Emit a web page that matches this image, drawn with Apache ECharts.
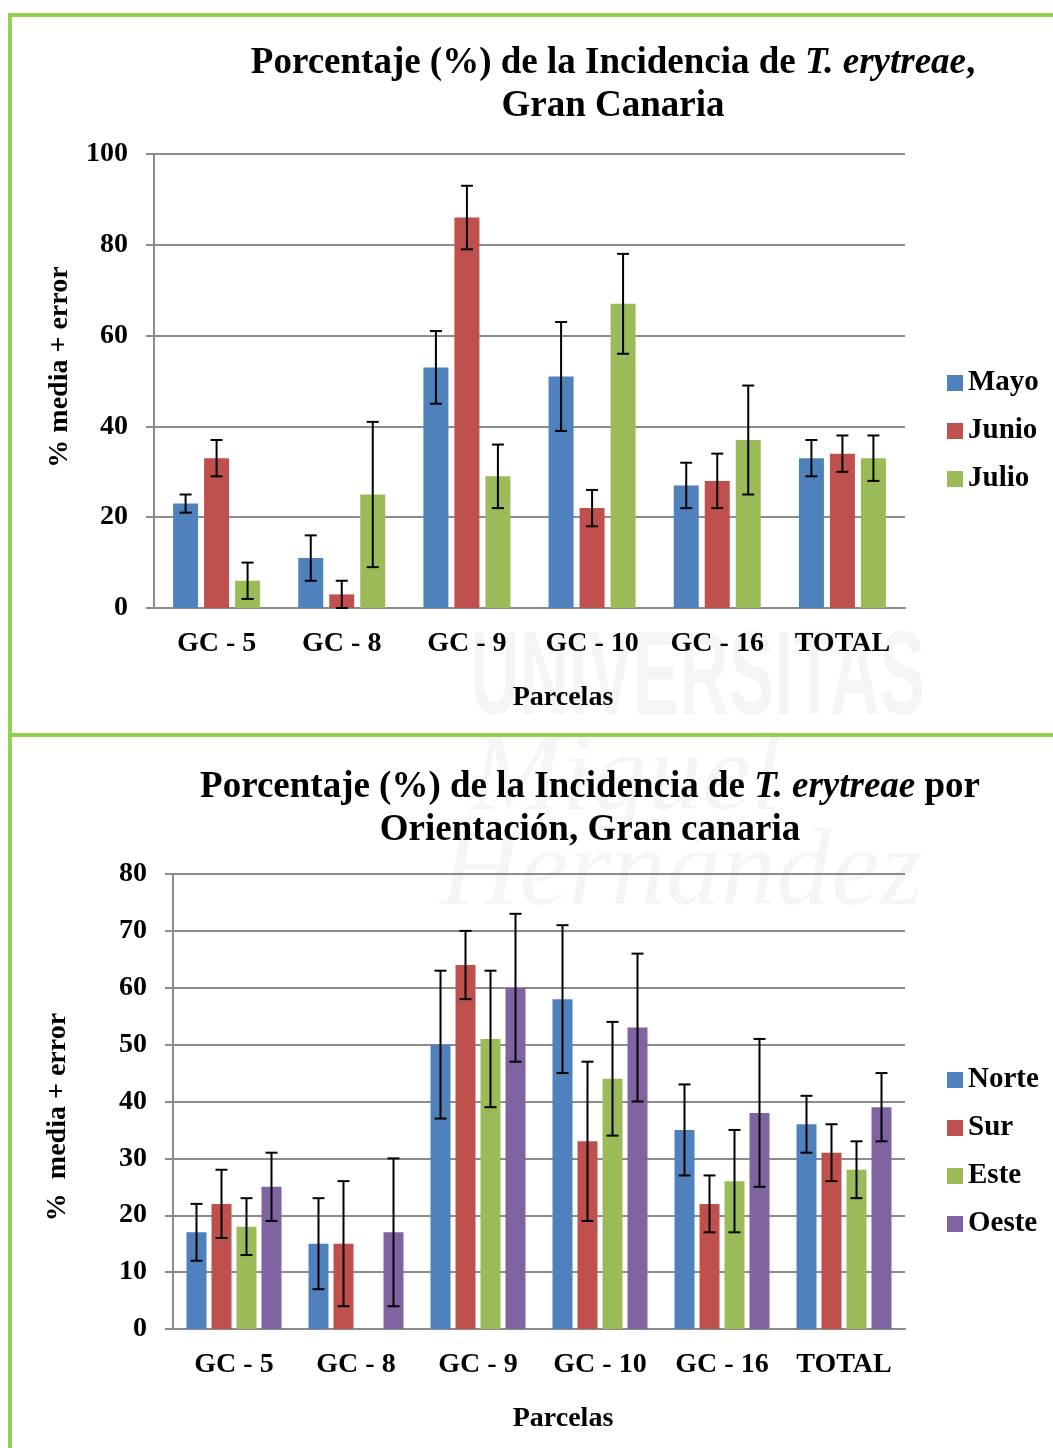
<!DOCTYPE html>
<html>
<head>
<meta charset="utf-8">
<script src="https://cdn.jsdelivr.net/npm/echarts@6/dist/echarts.min.js"></script>
<style>
  html, body { margin: 0; padding: 0; background: #fff; }
  #chart { width: 1053px; height: 1448px; }
</style>
</head>
<body>
<div id="chart"></div>
<script>
// ---------- DATA ----------
const categories = ['GC - 5', 'GC - 8', 'GC - 9', 'GC - 10', 'GC - 16', 'TOTAL'];

// Chart 1 (por mes)
const mayo      = [23, 11, 53, 51, 27, 33];
const mayoErr   = [2, 5, 8, 12, 5, 4];
const junio     = [33, 3, 86, 22, 28, 34];
const junioErr  = [4, 3, 7, 4, 6, 4];
const julio     = [6, 25, 29, 67, 37, 33];
const julioErr  = [4, 16, 7, 11, 12, 5];

// Chart 2 (por orientación)
const norte     = [17, 15, 50, 58, 35, 36];
const norteErr  = [5, 8, 13, 13, 8, 5];
const sur       = [22, 15, 64, 33, 22, 31];
const surErr    = [6, 11, 6, 14, 5, 5];
const este      = [18, null, 51, 44, 26, 28];
const esteErr   = [5, null, 12, 10, 9, 5];
const oeste     = [25, 17, 60, 53, 38, 39];
const oesteErr  = [6, 13, 13, 13, 13, 6];

const yTicks1 = [0, 20, 40, 60, 80, 100];
const yTicks2 = [0, 10, 20, 30, 40, 50, 60, 70, 80];

// ---------- STYLE ----------
const FONT = "'Liberation Serif', 'Times New Roman', serif";
const COLORS = { Mayo: '#4F81BD', Junio: '#C0504D', Julio: '#9BBB59',
                 Norte: '#4F81BD', Sur: '#C0504D', Este: '#9BBB59', Oeste: '#8064A2' };
const GRID_COLOR = '#8c8c8c';
const GREEN = '#92D050';

const chart = echarts.init(document.getElementById('chart'), null, { renderer: 'canvas' });

function errData(vals, errs) {
  const out = [];
  vals.forEach((v, i) => {
    if (v !== null && errs[i] !== null) out.push([i, Math.max(0, v - errs[i]), v + errs[i]]);
  });
  return out;
}

function errSeries(vals, errs, offset, axisIdx) {
  return {
    type: 'custom',
    xAxisIndex: axisIdx, yAxisIndex: axisIdx,
    z: 5,
    silent: true,
    data: errData(vals, errs),
    encode: { x: 0, y: [1, 2] },
    renderItem: function (params, api) {
      const idx = api.value(0);
      const lo = api.coord([idx, api.value(1)]);
      const hi = api.coord([idx, api.value(2)]);
      const x = lo[0] + offset;
      const hw = 6;
      const st = { stroke: '#000', lineWidth: 2 };
      return {
        type: 'group',
        children: [
          { type: 'line', shape: { x1: x, y1: lo[1], x2: x, y2: hi[1] }, style: st },
          { type: 'line', shape: { x1: x - hw, y1: lo[1], x2: x + hw, y2: lo[1] }, style: st },
          { type: 'line', shape: { x1: x - hw, y1: hi[1], x2: x + hw, y2: hi[1] }, style: st }
        ]
      };
    }
  };
}

function barSeries(name, vals, axisIdx, bw, gap) {
  return {
    name: name, type: 'bar',
    xAxisIndex: axisIdx, yAxisIndex: axisIdx,
    data: vals,
    barWidth: bw,
    barGap: gap,
    itemStyle: { color: COLORS[name] },
    z: 2
  };
}

// Bar geometry (style)
const BW1 = 25, GAP1 = 6;
const BW2 = 20, GAP2 = 5;
const step1 = BW1 + GAP1, step2 = BW2 + GAP2;

const series1Names = ['Mayo', 'Junio', 'Julio'];
const series1Vals = [mayo, junio, julio];
const series1Errs = [mayoErr, junioErr, julioErr];
const series2Names = ['Norte', 'Sur', 'Este', 'Oeste'];
const series2Vals = [norte, sur, este, oeste];
const series2Errs = [norteErr, surErr, esteErr, oesteErr];

const series = [];
series1Names.forEach((n, i) => series.push(barSeries(n, series1Vals[i], 0, BW1, (GAP1 / BW1 * 100) + '%')));
series2Names.forEach((n, i) => series.push(barSeries(n, series2Vals[i], 1, BW2, (GAP2 / BW2 * 100) + '%')));
series1Names.forEach((n, i) => series.push(errSeries(series1Vals[i], series1Errs[i], (i - 1) * step1, 0)));
series2Names.forEach((n, i) => series.push(errSeries(series2Vals[i], series2Errs[i], (i - 1.5) * step2, 1)));

function xAxis(gridIndex) {
  return {
    type: 'category', gridIndex: gridIndex, data: categories,
    axisLine: { show: true, lineStyle: { color: GRID_COLOR, width: 2 } },
    axisTick: { show: false },
    axisLabel: { interval: 0, fontFamily: FONT, fontWeight: 'bold', fontSize: 28, color: '#000', margin: 22 }
  };
}
function yAxis(gridIndex, max, interval) {
  return {
    type: 'value', gridIndex: gridIndex, min: 0, max: max, interval: interval,
    axisLine: { show: true, lineStyle: { color: GRID_COLOR, width: 2 } },
    axisTick: { show: true, length: 8, lineStyle: { color: GRID_COLOR, width: 2 } },
    splitLine: { show: true, lineStyle: { color: GRID_COLOR, width: 2 } },
    axisLabel: { fontFamily: FONT, fontWeight: 'bold', fontSize: 28, color: '#000', margin: 26 }
  };
}

const titleTextStyle = {
  fontFamily: FONT, fontSize: 37, fontWeight: 'bold', color: '#000', lineHeight: 43,
  rich: { i: { fontFamily: FONT, fontSize: 37, fontWeight: 'bold', fontStyle: 'italic', color: '#000', lineHeight: 43 } }
};

const legendStyle = {
  orient: 'vertical', icon: 'rect', itemWidth: 16, itemHeight: 16, itemGap: 16, padding: 0,
  textStyle: { fontFamily: FONT, fontSize: 29, fontWeight: 'bold', color: '#000', lineHeight: 32 },
  selectedMode: false
};

const wmColor = 'rgba(0,0,0,0.04)';

const option = {
  backgroundColor: '#fff',
  animation: false,
  title: [
    { text: 'Porcentaje (%) de la Incidencia de {i|T. erytreae},\nGran Canaria',
      left: 613, top: 42, textAlign: 'center', padding: 0, textStyle: titleTextStyle },
    { text: 'Porcentaje (%) de la Incidencia de {i|T. erytreae} por\nOrientación, Gran canaria',
      left: 590, top: 766, textAlign: 'center', padding: 0, textStyle: titleTextStyle }
  ],
  legend: [
    Object.assign({ data: series1Names, left: 947, top: 367 }, legendStyle),
    Object.assign({ data: series2Names, left: 947, top: 1064 }, legendStyle)
  ],
  grid: [
    { left: 154, top: 154, width: 751, height: 454 },
    { left: 173, top: 874, width: 732, height: 455 }
  ],
  xAxis: [xAxis(0), xAxis(1)],
  yAxis: [yAxis(0, yTicks1[yTicks1.length - 1], yTicks1[1] - yTicks1[0]),
          yAxis(1, yTicks2[yTicks2.length - 1], yTicks2[1] - yTicks2[0])],
  graphic: [
    // watermark (faint)
    { type: 'text', x: 470, y: 622, z: -10, scaleX: 0.58, silent: true,
      style: { text: 'UNIVERSITAS', font: "bold 118px 'Liberation Sans', sans-serif", fill: wmColor } },
    { type: 'text', x: 470, y: 725, z: -10, silent: true,
      style: { text: 'Miguel', font: "italic 110px 'Liberation Serif', serif", fill: wmColor } },
    { type: 'text', x: 440, y: 820, z: -10, silent: true,
      style: { text: 'Hernández', font: "italic 110px 'Liberation Serif', serif", fill: wmColor } },
    // green frame
    { type: 'rect', shape: { x: 8, y: 13, width: 1045, height: 4 }, style: { fill: GREEN }, z: 20 },
    { type: 'rect', shape: { x: 8, y: 13, width: 4, height: 1435 }, style: { fill: GREEN }, z: 20 },
    { type: 'rect', shape: { x: 8, y: 733, width: 1045, height: 4 }, style: { fill: GREEN }, z: 20 },
    // y-axis names
    { type: 'text', x: 60, y: 367, rotation: Math.PI / 2, z: 20,
      style: { text: '% media + error', font: "bold 28px " + FONT, fill: '#000', align: 'center', verticalAlign: 'middle' } },
    { type: 'text', x: 58, y: 1117, rotation: Math.PI / 2, z: 20,
      style: { text: '%  media + error', font: "bold 28px " + FONT, fill: '#000', align: 'center', verticalAlign: 'middle' } },
    // x-axis names
    { type: 'text', x: 563, y: 698, z: 20,
      style: { text: 'Parcelas', font: "bold 28px " + FONT, fill: '#000', align: 'center', verticalAlign: 'middle' } },
    { type: 'text', x: 563, y: 1419, z: 20,
      style: { text: 'Parcelas', font: "bold 28px " + FONT, fill: '#000', align: 'center', verticalAlign: 'middle' } }
  ],
  series: series
};

chart.setOption(option);
</script>
</body>
</html>
